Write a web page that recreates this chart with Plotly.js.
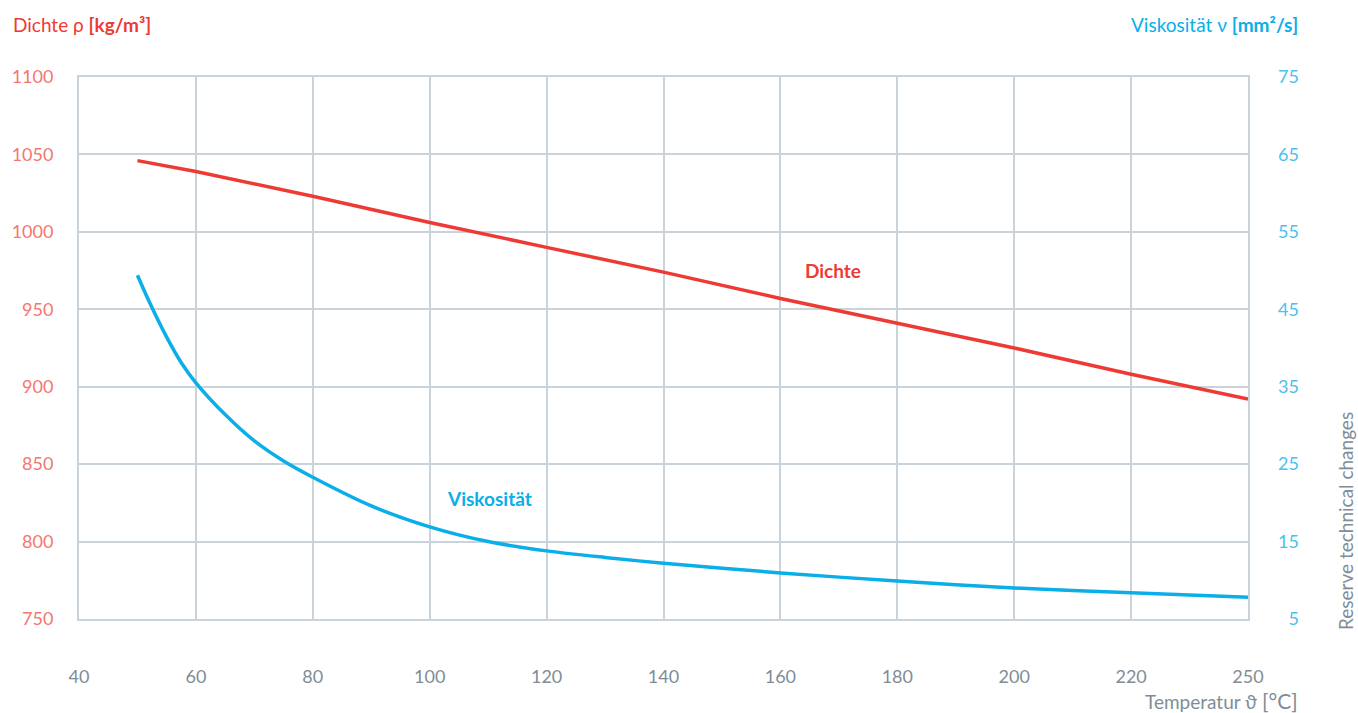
<!DOCTYPE html>
<html>
<head>
<meta charset="utf-8">
<script src="https://cdn.plot.ly/plotly-3.0.1.min.js"></script>
<style>
  html, body { margin: 0; padding: 0; background: #ffffff; }
  #chart { width: 1358px; height: 713px; }
</style>
</head>
<body>
<div id="chart"></div>
<script>
// ---- Data ----
const densityTemps = [50, 60, 80, 100, 120, 140, 160, 180, 200, 220, 250];
const densityValues = [1046, 1039, 1023, 1006, 990, 974, 957, 941, 925, 908, 892];

const viscosityTemps = [50, 52, 55, 57.5, 60, 65, 70, 75, 80, 90, 100, 110, 120, 130, 140, 160, 180, 200, 220, 250];
const viscosityValues = [49.4, 46.0, 41.4, 38.1, 35.5, 31.4, 28.0, 25.4, 23.3, 19.6, 16.9, 15.0, 13.8, 12.95, 12.2, 10.95, 9.9, 9.0, 8.4, 7.8];

const temperatureTicks = [40, 60, 80, 100, 120, 140, 160, 180, 200, 220, 250];
const densityTicks = [750, 800, 850, 900, 950, 1000, 1050, 1100];
const viscosityTicks = [5, 15, 25, 35, 45, 55, 65, 75];

// The reference axis draws its last interval (220 -> 250) as one equal grid cell.
function axisPos(t) {
  return t <= 220 ? t : 220 + (t - 220) * 20 / 30;
}

const RED = '#ee3a35';
const BLUE = '#0aaee8';
const GRID = '#cbd3da';
const GRAY = '#808d97';
const FONT = 'Lato, "Open Sans", "DejaVu Sans", sans-serif';

const traces = [
  {
    x: densityTemps.map(axisPos),
    y: densityValues,
    customdata: densityTemps,
    type: 'scatter',
    mode: 'lines',
    name: 'Dichte',
    line: { color: RED, width: 3.5 },
    hovertemplate: '%{customdata} °C: %{y} kg/m³<extra></extra>',
    yaxis: 'y'
  },
  {
    x: viscosityTemps.map(axisPos),
    y: viscosityValues,
    customdata: viscosityTemps,
    type: 'scatter',
    mode: 'lines',
    name: 'Viskosität',
    line: { color: BLUE, width: 3.5, shape: 'spline', smoothing: 0.8 },
    hovertemplate: '%{customdata} °C: %{y} mm²/s<extra></extra>',
    yaxis: 'y2'
  }
];

const layout = {
  width: 1358,
  height: 713,
  margin: { l: 79, r: 110, t: 77, b: 94 },
  paper_bgcolor: '#ffffff',
  plot_bgcolor: '#ffffff',
  showlegend: false,
  font: { family: FONT, size: 18, color: GRAY },
  xaxis: {
    range: [40, 240],
    tickvals: temperatureTicks.map(axisPos),
    ticktext: temperatureTicks.map(String),
    showgrid: true,
    gridcolor: GRID,
    gridwidth: 2,
    showline: true,
    linecolor: GRID,
    linewidth: 2,
    mirror: true,
    zeroline: false,
    ticks: '',
    ticklabelstandoff: 40,
    tickfont: { family: FONT, size: 18, color: GRAY }
  },
  yaxis: {
    range: [750, 1100],
    tickvals: densityTicks,
    ticktext: densityTicks.map(String),
    showgrid: true,
    gridcolor: GRID,
    gridwidth: 2,
    showline: true,
    linecolor: GRID,
    linewidth: 2,
    mirror: true,
    zeroline: false,
    ticks: '',
    ticklabelstandoff: 20,
    tickfont: { family: FONT, size: 18, color: '#f37770' }
  },
  yaxis2: {
    range: [5, 75],
    overlaying: 'y',
    side: 'right',
    tickvals: viscosityTicks,
    ticktext: viscosityTicks.map(v => v < 10 ? '\u2007' + v : String(v)),
    showgrid: false,
    showline: false,
    zeroline: false,
    ticks: '',
    ticklabelstandoff: 29,
    tickfont: { family: FONT, size: 18, color: '#4cc0ee' }
  },
  annotations: [
    {
      text: 'Dichte ρ <b>[kg/m³]</b>',
      xref: 'paper', yref: 'paper',
      x: (11 - 79) / 1169, y: (619 - 25) / 542,
      xanchor: 'left', yanchor: 'middle',
      showarrow: false,
      font: { family: FONT, size: 19, color: RED }
    },
    {
      text: 'Viskosität ν <b>[mm²/s]</b>',
      xref: 'paper', yref: 'paper',
      x: (1300 - 79) / 1169, y: (619 - 25) / 542,
      xanchor: 'right', yanchor: 'middle',
      showarrow: false,
      font: { family: FONT, size: 19, color: BLUE }
    },
    {
      text: 'Temperatur ϑ <span style="font-size:21px">[°C]</span>',
      xref: 'paper', yref: 'paper',
      x: (1300 - 79) / 1169, y: (619 - 700) / 542,
      xanchor: 'right', yanchor: 'middle',
      showarrow: false,
      font: { family: FONT, size: 19, color: GRAY }
    },
    {
      text: 'Reserve technical changes',
      xref: 'paper', yref: 'paper',
      x: (1345 - 79) / 1169, y: (619 - 521) / 542,
      xanchor: 'center', yanchor: 'middle',
      textangle: -90,
      showarrow: false,
      font: { family: FONT, size: 19, color: GRAY }
    },
    {
      text: '<b>Dichte</b>',
      xref: 'x', yref: 'y',
      x: 169, y: 975,
      xanchor: 'center', yanchor: 'middle',
      showarrow: false,
      font: { family: FONT, size: 19, color: RED }
    },
    {
      text: '<b>Viskosität</b>',
      xref: 'x', yref: 'y',
      x: 110.3, y: 828,
      xanchor: 'center', yanchor: 'middle',
      showarrow: false,
      font: { family: FONT, size: 19, color: BLUE }
    }
  ]
};

Plotly.newPlot('chart', traces, layout, { displayModeBar: false });
</script>
</body>
</html>
